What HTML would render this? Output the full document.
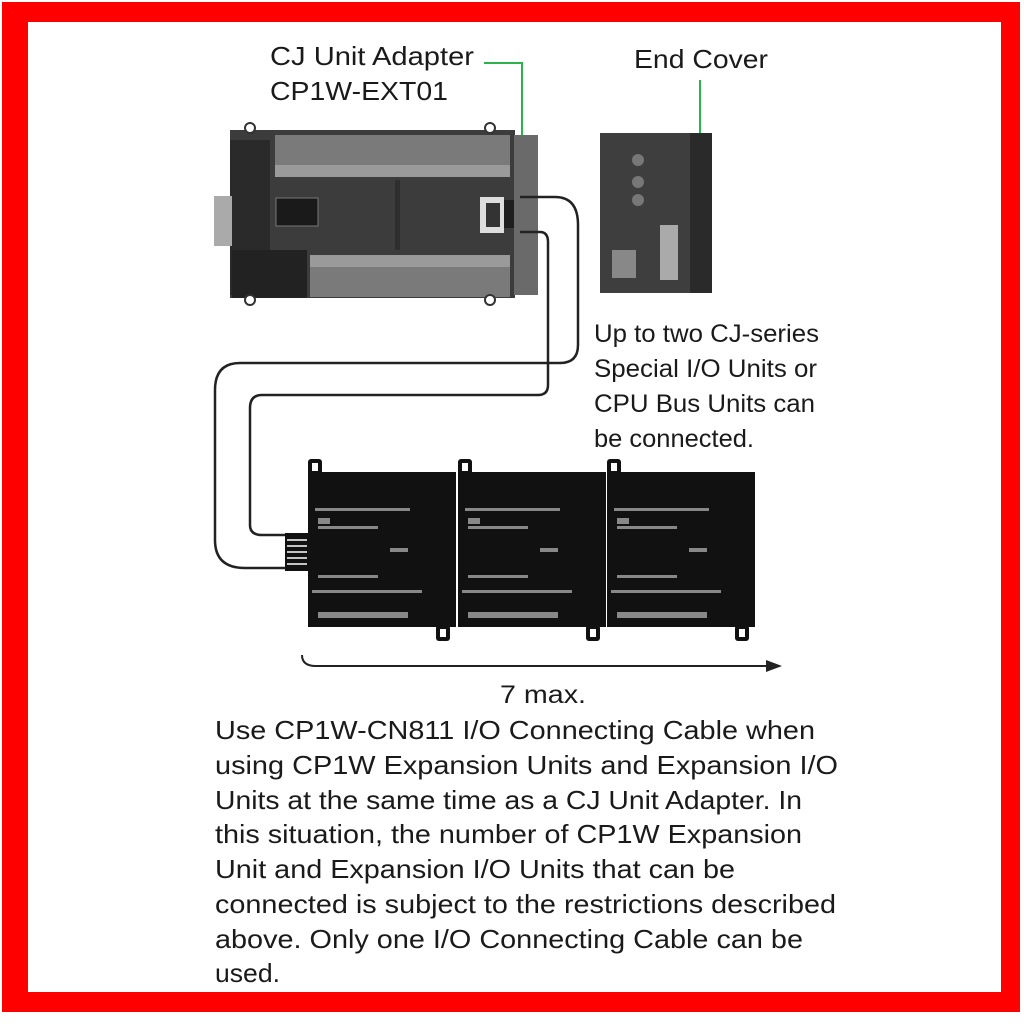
<!DOCTYPE html>
<html><head><style>
html,body{margin:0;padding:0;background:#fff;}
svg{display:block;}
text{font-family:"Liberation Sans",sans-serif;fill:#1a1a1a;}
</style></head><body>
<svg width="1024" height="1024" viewBox="0 0 1024 1024" xmlns="http://www.w3.org/2000/svg">
<rect x="0" y="0" width="1024" height="1024" fill="#fff"/>
<rect x="2" y="2" width="1018" height="1010" fill="#ff0000"/>
<rect x="28" y="22" width="973" height="970" fill="#fff"/>

<!-- labels -->
<text x="270" y="65" font-size="26" textLength="204" lengthAdjust="spacingAndGlyphs">CJ Unit Adapter</text>
<text x="270" y="100" font-size="26" textLength="178" lengthAdjust="spacingAndGlyphs">CP1W-EXT01</text>
<polyline points="484,63 522,63 522,135" fill="none" stroke="#2db34a" stroke-width="2"/>
<text x="634" y="68" font-size="26" textLength="134" lengthAdjust="spacingAndGlyphs">End Cover</text>
<line x1="700" y1="80" x2="700" y2="135" stroke="#2db34a" stroke-width="2"/>

<!-- PLC -->
<rect x="230" y="130" width="285" height="168" fill="#3c3c3c"/>
<rect x="275" y="135" width="235" height="30" fill="#7a7a7a"/>
<rect x="275" y="165" width="235" height="12" fill="#9a9a9a"/>
<rect x="310" y="255" width="200" height="12" fill="#9a9a9a"/>
<rect x="310" y="267" width="200" height="30" fill="#7a7a7a"/>
<rect x="230" y="140" width="40" height="155" fill="#2a2a2a"/>
<rect x="214" y="196" width="18" height="50" fill="#aaa"/>
<rect x="232" y="250" width="75" height="48" fill="#222"/>
<rect x="276" y="198" width="42" height="28" fill="#1a1a1a" stroke="#777"/>
<rect x="395" y="180" width="5" height="70" fill="#2e2e2e"/>
<rect x="480" y="197" width="24" height="36" fill="#ddd"/>
<rect x="486" y="203" width="14" height="24" fill="#333"/>
<rect x="504" y="200" width="30" height="28" fill="#1e1e1e"/>
<circle cx="250" cy="128" r="5" fill="#fff" stroke="#333" stroke-width="2"/>
<circle cx="490" cy="128" r="5" fill="#fff" stroke="#333" stroke-width="2"/>
<circle cx="250" cy="300" r="5" fill="#fff" stroke="#333" stroke-width="2"/>
<circle cx="490" cy="300" r="5" fill="#fff" stroke="#333" stroke-width="2"/>
<rect x="514" y="135" width="24" height="160" fill="#6a6a6a"/>

<!-- End cover module -->
<rect x="600" y="133" width="112" height="160" fill="#3e3e3e"/>
<rect x="690" y="133" width="22" height="160" fill="#2a2a2a"/>
<rect x="612" y="250" width="24" height="28" fill="#888"/>
<rect x="660" y="225" width="18" height="55" fill="#aaa"/>
<circle cx="638" cy="160" r="6" fill="#777"/>
<circle cx="638" cy="182" r="6" fill="#777"/>
<circle cx="638" cy="200" r="6" fill="#777"/>

<!-- cable -->
<path d="M520,197 H555 Q578,197 578,225 V345 Q578,363 560,363 H240 Q215,363 215,390 V540 Q215,568 245,568 H292" fill="none" stroke="#222" stroke-width="2.5"/>
<path d="M520,232 H540 Q548,232 548,242 V385 Q548,395 538,395 H262 Q250,395 250,408 V525 Q250,535 262,535 H292" fill="none" stroke="#222" stroke-width="2.5"/>
<rect x="285" y="533" width="24" height="38" fill="#111"/>
<g stroke="#fff" stroke-width="1.5">
<line x1="287" y1="540" x2="307" y2="540"/><line x1="287" y1="546" x2="307" y2="546"/>
<line x1="287" y1="552" x2="307" y2="552"/><line x1="287" y1="558" x2="307" y2="558"/>
<line x1="287" y1="564" x2="307" y2="564"/>
</g>

<!-- right text -->
<text x="594" y="342" font-size="25" textLength="225" lengthAdjust="spacingAndGlyphs">Up to two CJ-series</text>
<text x="594" y="377" font-size="25" textLength="223" lengthAdjust="spacingAndGlyphs">Special I/O Units or</text>
<text x="594" y="412" font-size="25" textLength="221" lengthAdjust="spacingAndGlyphs">CPU Bus Units can</text>
<text x="594" y="447" font-size="25" textLength="160" lengthAdjust="spacingAndGlyphs">be connected.</text>

<!-- expansion units -->
<g id="u">
<rect x="308" y="472" width="148" height="155" fill="#111"/>
<rect x="308" y="459" width="14" height="16" rx="3" fill="#111"/>
<rect x="312" y="463" width="6" height="8" fill="#fff"/>
<rect x="436" y="625" width="14" height="16" rx="3" fill="#111"/>
<rect x="440" y="629" width="6" height="8" fill="#fff"/>
<g fill="#888">
<rect x="315" y="508" width="95" height="3"/><rect x="318" y="518" width="12" height="6"/>
<rect x="318" y="526" width="60" height="3"/><rect x="390" y="548" width="18" height="4"/>
<rect x="318" y="575" width="60" height="3"/><rect x="312" y="590" width="110" height="3"/>
<rect x="318" y="612" width="90" height="6"/>
</g>
</g>
<use href="#u" x="150"/>
<use href="#u" x="299"/>

<!-- arrow -->
<path d="M302,655 Q302,666 316,666 H770" fill="none" stroke="#222" stroke-width="2"/>
<polygon points="782,666 766,660 766,672" fill="#222"/>
<text x="500" y="703" font-size="25" textLength="86" lengthAdjust="spacingAndGlyphs">7 max.</text>

<!-- bottom text -->
<g font-size="26">
<text x="215" y="739" textLength="600" lengthAdjust="spacingAndGlyphs">Use CP1W-CN811 I/O Connecting Cable when</text>
<text x="215" y="774" textLength="623" lengthAdjust="spacingAndGlyphs">using CP1W Expansion Units and Expansion I/O</text>
<text x="215" y="809" textLength="587" lengthAdjust="spacingAndGlyphs">Units at the same time as a CJ Unit Adapter. In</text>
<text x="215" y="843" textLength="587" lengthAdjust="spacingAndGlyphs">this situation, the number of CP1W Expansion</text>
<text x="215" y="878" textLength="520" lengthAdjust="spacingAndGlyphs">Unit and Expansion I/O Units that can be</text>
<text x="215" y="913" textLength="621" lengthAdjust="spacingAndGlyphs">connected is subject to the restrictions described</text>
<text x="215" y="948" textLength="588" lengthAdjust="spacingAndGlyphs">above. Only one I/O Connecting Cable can be</text>
<text x="215" y="982" textLength="65" lengthAdjust="spacingAndGlyphs">used.</text>
</g>
</svg>
</body></html>
